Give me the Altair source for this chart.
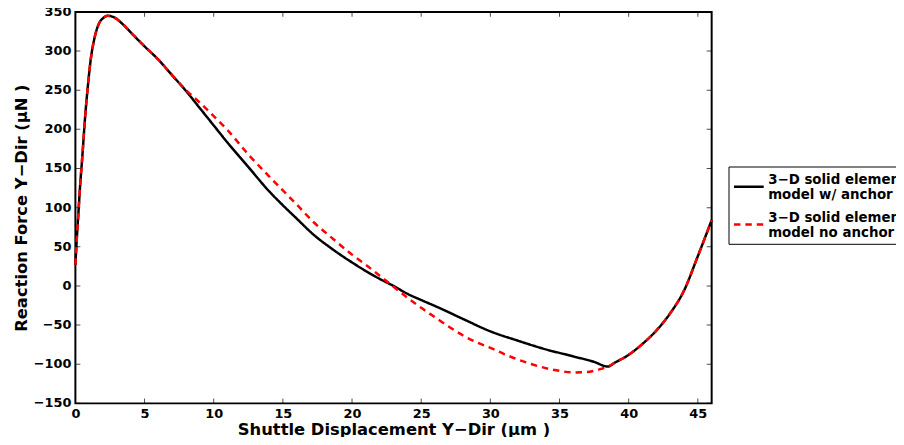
import altair as alt
import pandas as pd

# ---- data ----
series_names = ["3−D solid element\nmodel w/ anchor", "3−D solid element\nmodel no anchor"]

anchor_x = [0, 0.1, 0.2, 0.35, 0.5, 0.7, 0.9, 1.1, 1.4, 1.7, 2.0, 2.35, 2.8, 3.5, 4.1,
            5, 6, 7, 8, 9, 10, 11, 12.5, 14, 15, 16, 17.25, 18.5, 20, 21, 22, 23, 24,
            25, 26.3, 28, 30, 32, 34, 36, 37.5, 38.5, 39, 40, 41, 42, 43, 44, 45, 46]
anchor_y = [27, 60, 88, 130, 165, 215, 255, 288, 318, 335, 342, 345, 343, 333, 322,
            306, 289, 269, 249, 227, 205, 183, 152, 121, 103, 86, 65, 48, 30, 19, 9, 0, -10,
            -18, -28, -42, -58, -70, -81, -90, -97, -103, -98, -88, -74, -57, -35, -6, 38, 84]

noanchor_x = [0, 0.1, 0.2, 0.35, 0.5, 0.7, 0.9, 1.1, 1.4, 1.7, 2.0, 2.35, 2.8, 3.5, 4.1,
              5, 6, 7, 8, 9, 10, 11, 12.5, 14, 15, 16, 17.25, 18.5, 20, 21, 22, 23, 24,
              25, 26, 27, 28, 29, 30, 31, 32, 33, 34, 35, 36, 37, 37.5, 38, 38.5, 39,
              40, 41, 42, 43, 44, 45, 46]
noanchor_y = [27, 60, 88, 130, 165, 215, 255, 288, 318, 335, 342, 345, 343, 333, 322,
              306, 289, 269, 250, 234, 217, 199, 168, 140, 122, 104, 81, 62, 40, 27, 13, -1, -15,
              -28, -40, -52, -63, -72, -79, -87, -94, -100, -105, -108.5, -110.5, -110, -108.5, -106, -103, -98,
              -88, -74, -57, -35, -6, 38, 84]

x_ticks = [0, 5, 10, 15, 20, 25, 30, 35, 40, 45]
y_ticks = [-150, -100, -50, 0, 50, 100, 150, 200, 250, 300, 350]
y_tick_labels = ["−150", "−100", "−50", "0", "50", "100", "150", "200", "250", "300", "350"]
x_domain = [0, 46]
y_domain = [-150, 350]

x_title = "Shuttle Displacement Y−Dir (μm )"
y_title = "Reaction Force Y−Dir (μN )"

# ---- tables ----
rows = []
for i, (xs, ys) in enumerate([(anchor_x, anchor_y), (noanchor_x, noanchor_y)]):
    for k, (a, b) in enumerate(zip(xs, ys)):
        rows.append({"x": a, "y": b, "series": series_names[i], "order": k})
df = pd.DataFrame(rows)
xt = pd.DataFrame({"x": x_ticks})
yt = pd.DataFrame({"y": y_ticks, "label": y_tick_labels})

FONT = "DejaVu Sans"

xscale = alt.Scale(domain=x_domain, nice=False, zero=False)
yscale = alt.Scale(domain=y_domain, nice=False, zero=False)
x_axis = alt.Axis(values=x_ticks, title=x_title, labelPadding=4, titlePadding=1,
                  labelOverlap=False, labelFlush=False)
y_axis = alt.Axis(values=y_ticks, title=y_title, labels=False, titlePadding=46)

lines = alt.Chart(df).mark_line(strokeWidth=2.5, strokeCap="butt",
                                interpolate="monotone").encode(
    x=alt.X("x:Q", scale=xscale, axis=x_axis),
    y=alt.Y("y:Q", scale=yscale, axis=y_axis),
    color=alt.Color("series:N",
                    scale=alt.Scale(domain=series_names, range=["black", "red"]),
                    legend=alt.Legend(title=None, orient="none", legendX=659, legendY=156,
                                      labelExpr="split(datum.label, '\\n')",
                                      labelBaseline="bottom",
                                      symbolType="stroke", symbolSize=900,
                                      symbolStrokeWidth=2.5,
                                      labelFont=FONT, labelFontSize=13.5, labelFontWeight="bold",
                                      labelColor="black", labelOffset=3,
                                      strokeColor="black", fillColor="white",
                                      padding=4, rowPadding=6, labelLimit=400)),
    strokeDash=alt.StrokeDash("series:N",
                              scale=alt.Scale(domain=series_names, range=[[1, 0], [6.5, 5]]),
                              legend=None),
    order="order:Q",
)

def xtick_layer(ypos):
    return alt.Chart(xt).mark_tick(clip=True, size=10, thickness=1, color="black",
                                   orient="vertical").encode(
        x=alt.X("x:Q", scale=xscale, axis=x_axis), y=alt.datum(ypos))

def ytick_layer(xpos):
    return alt.Chart(yt).mark_tick(clip=True, size=10, thickness=1, color="black",
                                   orient="horizontal").encode(
        y=alt.Y("y:Q", scale=yscale, axis=y_axis), x=alt.datum(xpos))

y_labels = alt.Chart(yt).mark_text(align="right", baseline="middle", dx=-4,
                                   font=FONT, fontSize=13, fontWeight="bold",
                                   color="black").encode(
    y=alt.Y("y:Q", scale=yscale, axis=y_axis),
    x=alt.datum(x_domain[0]),
    text="label:N",
)

chart = alt.layer(lines, xtick_layer(y_domain[0]), xtick_layer(y_domain[1]),
                  ytick_layer(x_domain[0]), ytick_layer(x_domain[1]), y_labels).properties(
    width=642, height=395,
    background="white",
    autosize=alt.AutoSizeParams(type="none"),
    padding={"left": 68, "top": 2, "right": 186, "bottom": 32},
).configure_view(
    stroke="black", strokeWidth=2
).configure_axis(
    domain=False, ticks=False, grid=False,
    labelFont=FONT, labelFontSize=13, labelFontWeight="bold", labelColor="black",
    titleFont=FONT, titleFontSize=16.5, titleFontWeight="bold", titleColor="black",
)

chart.save("out.html", embed_options={"renderer": "svg", "actions": False})
